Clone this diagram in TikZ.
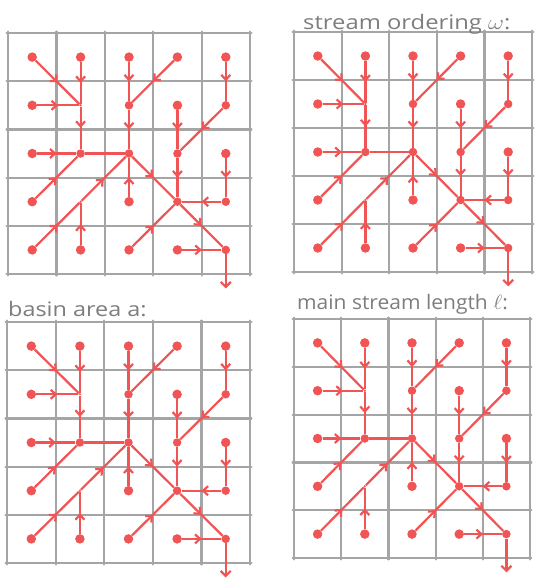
\documentclass[tikz,border=0pt]{standalone}
\usepackage{fontspec}
\setmainfont{Open Sans}
\usetikzlibrary{arrows.meta,decorations.markings}
\definecolor{riv}{RGB}{240,84,84}
\definecolor{gridc}{RGB}{165,165,165}
\definecolor{txt}{RGB}{125,125,125}
\tikzset{
  gridline/.style={draw=gridc, line width=2.2pt, line cap=round},
  flow/.style={draw=riv, line width=2.2pt, postaction={decorate},
    decoration={markings, mark=at position 0.5 with {\arrow{Straight Barb[length=5pt,width=9pt]}}}},
  plainflow/.style={draw=riv, line width=2.2pt},
  src/.style={circle, fill=riv, inner sep=0pt, minimum size=9.5pt},
  jct/.style={circle, fill=riv, inner sep=0pt, minimum size=8.5pt},
  tiny/.style={circle, fill=riv, inner sep=0pt, minimum size=2.5pt},
  lbl/.style={text=txt, anchor=base west, inner sep=0pt, font=\fontsize{20}{24}\selectfont},
}
\newcommand\drawpanel[5]{%
\begin{scope}[shift={(#1pt,-#2pt)}, x=#3pt, y=-#4pt]
  \foreach \i in {0,...,5} {
    \draw[gridline] (\i,-0.03) -- (\i,5.03);
    \draw[gridline] (-0.03,\i) -- (5.03,\i);
  }
  \foreach \c/\r in {1/1,2/1,3/1,4/1,5/1,1/2,4/2,1/3,5/3,1/4,3/4,1/5,2/5,3/5,4/5}
    \node[src] (#5-\c-\r) at (\c-0.5,\r-0.5) {};
  \foreach \c/\r in {3/2,5/2,2/3,3/3,4/3,4/4,5/4,5/5}
    \node[jct] (#5-\c-\r) at (\c-0.5,\r-0.5) {};
  \foreach \c/\r in {2/2,2/4}
    \node[tiny] (#5-\c-\r) at (\c-0.5,\r-0.5) {};
  \coordinate (#5-out) at (4.5,5.3);
  \foreach \a/\b in {1-1/2-2,2-1/2-2,1-2/2-2,2-2/2-3,1-3/2-3,1-4/2-3,
                     3-1/3-2,4-1/3-2,3-2/3-3,3-4/3-3,1-5/2-4,2-5/2-4,2-4/3-3,
                     3-3/4-4,5-1/5-2,5-2/4-3,4-2/4-3,4-3/4-4,5-3/5-4,5-4/4-4,
                     3-5/4-4,4-4/5-5,4-5/5-5}
    \draw[flow] (#5-\a) -- (#5-\b);
  \draw[plainflow] (#5-2-3) -- (#5-3-3);
  \draw[plainflow, -{Straight Barb[length=5pt,width=10pt]}] (#5-5-5) -- (#5-out);
\end{scope}}
\begin{document}
\begin{tikzpicture}[x=1pt,y=1pt]
  \useasboundingbox (0,0) rectangle (535,-579);
  \drawpanel{8}{33}{48.4}{48.2}{A}
  \drawpanel{294}{32}{47.6}{48}{B}
  \drawpanel{7}{322}{48.6}{48.2}{C}
  \drawpanel{294}{319}{47.2}{47.8}{D}
  \node[lbl] (tB) at (303,-29) {\scalebox{1.19}[1]{stream ordering $\omega$:}};
  \node[lbl] (tC) at (8,-316) {\scalebox{1.17}[1]{basin area a:}};
  \node[lbl] (tD) at (297,-309) {\scalebox{1.05}[1]{main stream length $\ell$:}};
\end{tikzpicture}
\end{document}
